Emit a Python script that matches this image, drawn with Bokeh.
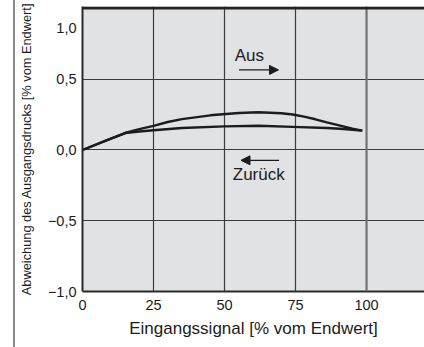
from bokeh.plotting import figure
from bokeh.models import Label, Arrow, NormalHead, FixedTicker, Range1d, Div, BoxAnnotation, Span
from bokeh.layouts import row
from bokeh.embed import file_html
from bokeh.resources import INLINE

# Data
aus_x = [0, 8, 15, 20, 25, 30, 35, 45, 55, 62, 70, 74, 78, 82, 86, 90, 95, 98.5]
aus_y = [0, 0.065, 0.12, 0.147, 0.17, 0.198, 0.218, 0.245, 0.261, 0.267, 0.26, 0.251, 0.236, 0.217, 0.195, 0.176, 0.15, 0.137]
zur_x = [0, 8, 15, 20, 25, 35, 50, 62, 74, 86, 92, 95, 98.5]
zur_y = [0, 0.065, 0.12, 0.131, 0.139, 0.155, 0.167, 0.171, 0.163, 0.155, 0.148, 0.143, 0.137]

x_ticks = [0, 25, 50, 75, 100]
y_ticks = [-1.0, -0.5, 0.0, 0.5, 1.0]
y_tick_labels = ["\u22121,0", "\u22120,5", "0,0", "0,5", "1,0"]

x_label = "Eingangssignal [% vom Endwert]"
y_label = "Abweichung des Ausgangsdrucks [% vom Endwert]"

aus_text = "Aus"
aus_text_pos = (53.6, 0.668)
aus_arrow = (55.1, 69.0, 0.566)
zur_text = "Zurück"
zur_text_pos = (52.9, -0.172)
zur_arrow = (69.2, 55.8, -0.073)

FONT = "Liberation Sans"
INK = "#1c1c1c"

p = figure(width=409, height=347, output_backend="svg", toolbar_location=None,
           x_range=Range1d(0, 120.4), y_range=Range1d(-1.0, 1.014),
           min_border_left=67, min_border_right=0, min_border_top=6, min_border_bottom=56)

p.background_fill_color = "#e1e2e4"
p.border_fill_color = "white"
p.outline_line_color = None

# grid
p.xgrid.ticker = FixedTicker(ticks=x_ticks)
p.ygrid.ticker = FixedTicker(ticks=y_ticks)
p.grid.grid_line_color = "#3c3c3c"
p.grid.grid_line_width = 1.2

# axes
for ax in (p.xaxis[0], p.yaxis[0]):
    ax.axis_line_color = "#2a2a2a"
    ax.axis_line_width = 2
    ax.major_tick_line_color = None
    ax.minor_tick_line_color = None
    ax.major_tick_in = 0
    ax.major_tick_out = 0
    ax.major_label_text_font = FONT
    ax.major_label_text_font_size = "14.5px"
    ax.major_label_text_color = INK
    ax.axis_label_text_font = FONT
    ax.axis_label_text_font_style = "normal"
    ax.axis_label_text_color = INK

p.xaxis.ticker = FixedTicker(ticks=x_ticks)
p.xaxis.major_label_standoff = 8
p.xaxis.axis_label = x_label
p.xaxis.axis_label_text_font_size = "17px"
p.xaxis.axis_label_standoff = 6

p.yaxis.ticker = FixedTicker(ticks=y_ticks)
overrides = {t: l for t, l in zip(y_ticks, y_tick_labels)}
overrides[1.0] = "\n" + y_tick_labels[-1]   # top label sits below the rule, as in the reference
p.yaxis.major_label_overrides = overrides
p.yaxis.major_label_standoff = 6
p.yaxis.axis_label = y_label
p.yaxis.axis_label_text_font_size = "12.8px"
p.yaxis.axis_label_standoff = 11

# lighter, heavier grid line at the last x tick (as in the reference)
p.add_layout(Span(location=x_ticks[-1], dimension="height", line_color="#707070", line_width=2))

# top dark rule along the frame top
p.add_layout(BoxAnnotation(bottom=0.993, top=1.014, fill_color="#222222", fill_alpha=1,
                           line_color=None))

# curves
p.line(aus_x, aus_y, line_color=INK, line_width=2.4)
p.line(zur_x, zur_y, line_color=INK, line_width=2.4)

# annotations
p.add_layout(Label(x=aus_text_pos[0], y=aus_text_pos[1], text=aus_text, text_font=FONT,
                   text_font_size="17px", text_color=INK, text_baseline="alphabetic"))
p.add_layout(Label(x=zur_text_pos[0], y=zur_text_pos[1], text=zur_text, text_font=FONT,
                   text_font_size="17px", text_color=INK, text_baseline="alphabetic"))
p.add_layout(Arrow(x_start=aus_arrow[0], x_end=aus_arrow[1], y_start=aus_arrow[2], y_end=aus_arrow[2],
                   line_color=INK, line_width=1.3,
                   end=NormalHead(size=9, fill_color=INK, line_color=INK, line_width=1)))
p.add_layout(Arrow(x_start=zur_arrow[0], x_end=zur_arrow[1], y_start=zur_arrow[2], y_end=zur_arrow[2],
                   line_color=INK, line_width=1.3,
                   end=NormalHead(size=9, fill_color=INK, line_color=INK, line_width=1)))

# left gray page rule
left_rule = Div(text="", width=2, height=347, margin=(0, 0, 0, 13),
                styles={"background-color": "#8a8a8a"})

layout = row(left_rule, p)

open("out.html", "w").write(file_html(layout, INLINE))
